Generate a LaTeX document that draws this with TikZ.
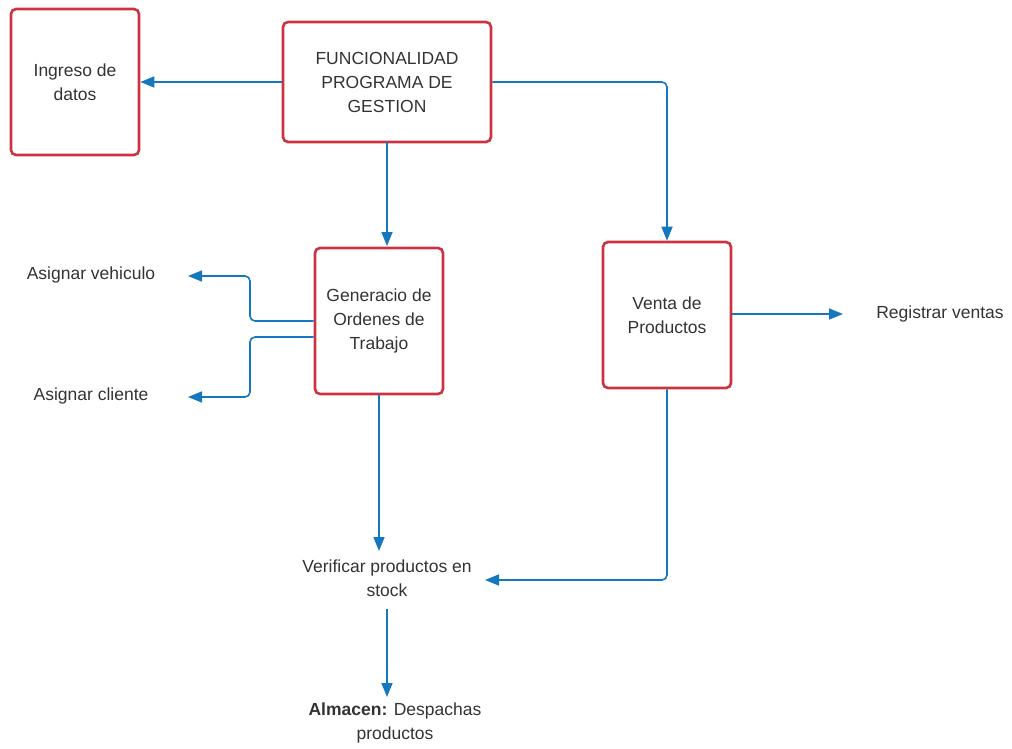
\documentclass[tikz,border=0pt]{standalone}
\usepackage{fontspec}
\setmainfont{Liberation Sans}
\usetikzlibrary{arrows.meta}
\definecolor{boxred}{HTML}{CC3341}
\definecolor{flowblue}{HTML}{1577BD}
\definecolor{txtgray}{HTML}{333333}
\begin{document}
\begin{tikzpicture}[x=1pt,y=-1pt,
  every node/.style={text=txtgray,font=\fontsize{17.5}{24}\selectfont,align=center},
  procbox/.style={draw=boxred,line width=2.6pt,rounded corners=5pt,inner sep=0pt},
  label/.style={inner sep=0pt},
  flow/.style={draw=flowblue,line width=1.6pt,rounded corners=5pt,
    -{Triangle[length=14pt,width=11pt]}}]
\useasboundingbox (0,0) rectangle (1012,749);

% process boxes
\node[procbox,minimum width=128pt,minimum height=146pt] (ingreso) at (75,82) {Ingreso de\\datos};
\node[procbox,minimum width=208pt,minimum height=120pt] (func) at (387,82) {FUNCIONALIDAD\\PROGRAMA DE\\GESTION};
\node[procbox,minimum width=128pt,minimum height=146pt] (gen) at (379,321) {Generacio de\\Ordenes de\\Trabajo};
\node[procbox,minimum width=128pt,minimum height=146pt] (venta) at (667,315) {Venta de\\Productos};

% plain text labels
\node[label] (vehiculo) at (91,275) {Asignar vehiculo};
\node[label] (cliente) at (91,396) {Asignar cliente};
\node[label] (registrar) at (940,314) {Registrar ventas};
\node[label] (verificar) at (387,578) {Verificar productos en\\stock};
\node[label] (almacen) at (395,723) {\textbf{Almacen:} Despachas\\productos};

% arrow end points beside the text labels
\coordinate (vehtip) at (188,276);
\coordinate (clitip) at (188,397);
\coordinate (regtip) at (843,314);
\coordinate (vertip) at (485,580);
\coordinate (vertop) at (379,551);
\coordinate (verbot) at (387,609);
\coordinate (almtop) at (387,697);

% connectors
\draw[flow] (func.west) -- (ingreso.east);
\draw[flow] (func.east) -- (667,82) -- (venta.north);
\draw[flow] (387,142) -- (387,246);
\draw[flow] (gen.west) -- (250,321) -- (250,276) -- (vehtip);
\draw[flow] (gen.west |- 0,337) -- (250,337) -- (250,397) -- (clitip);
\draw[flow] (gen.south) -- (vertop);
\draw[flow] (venta.east |- regtip) -- (regtip);
\draw[flow] (venta.south) -- (667,580) -- (vertip);
\draw[flow] (verbot) -- (almtop);
\end{tikzpicture}
\end{document}
